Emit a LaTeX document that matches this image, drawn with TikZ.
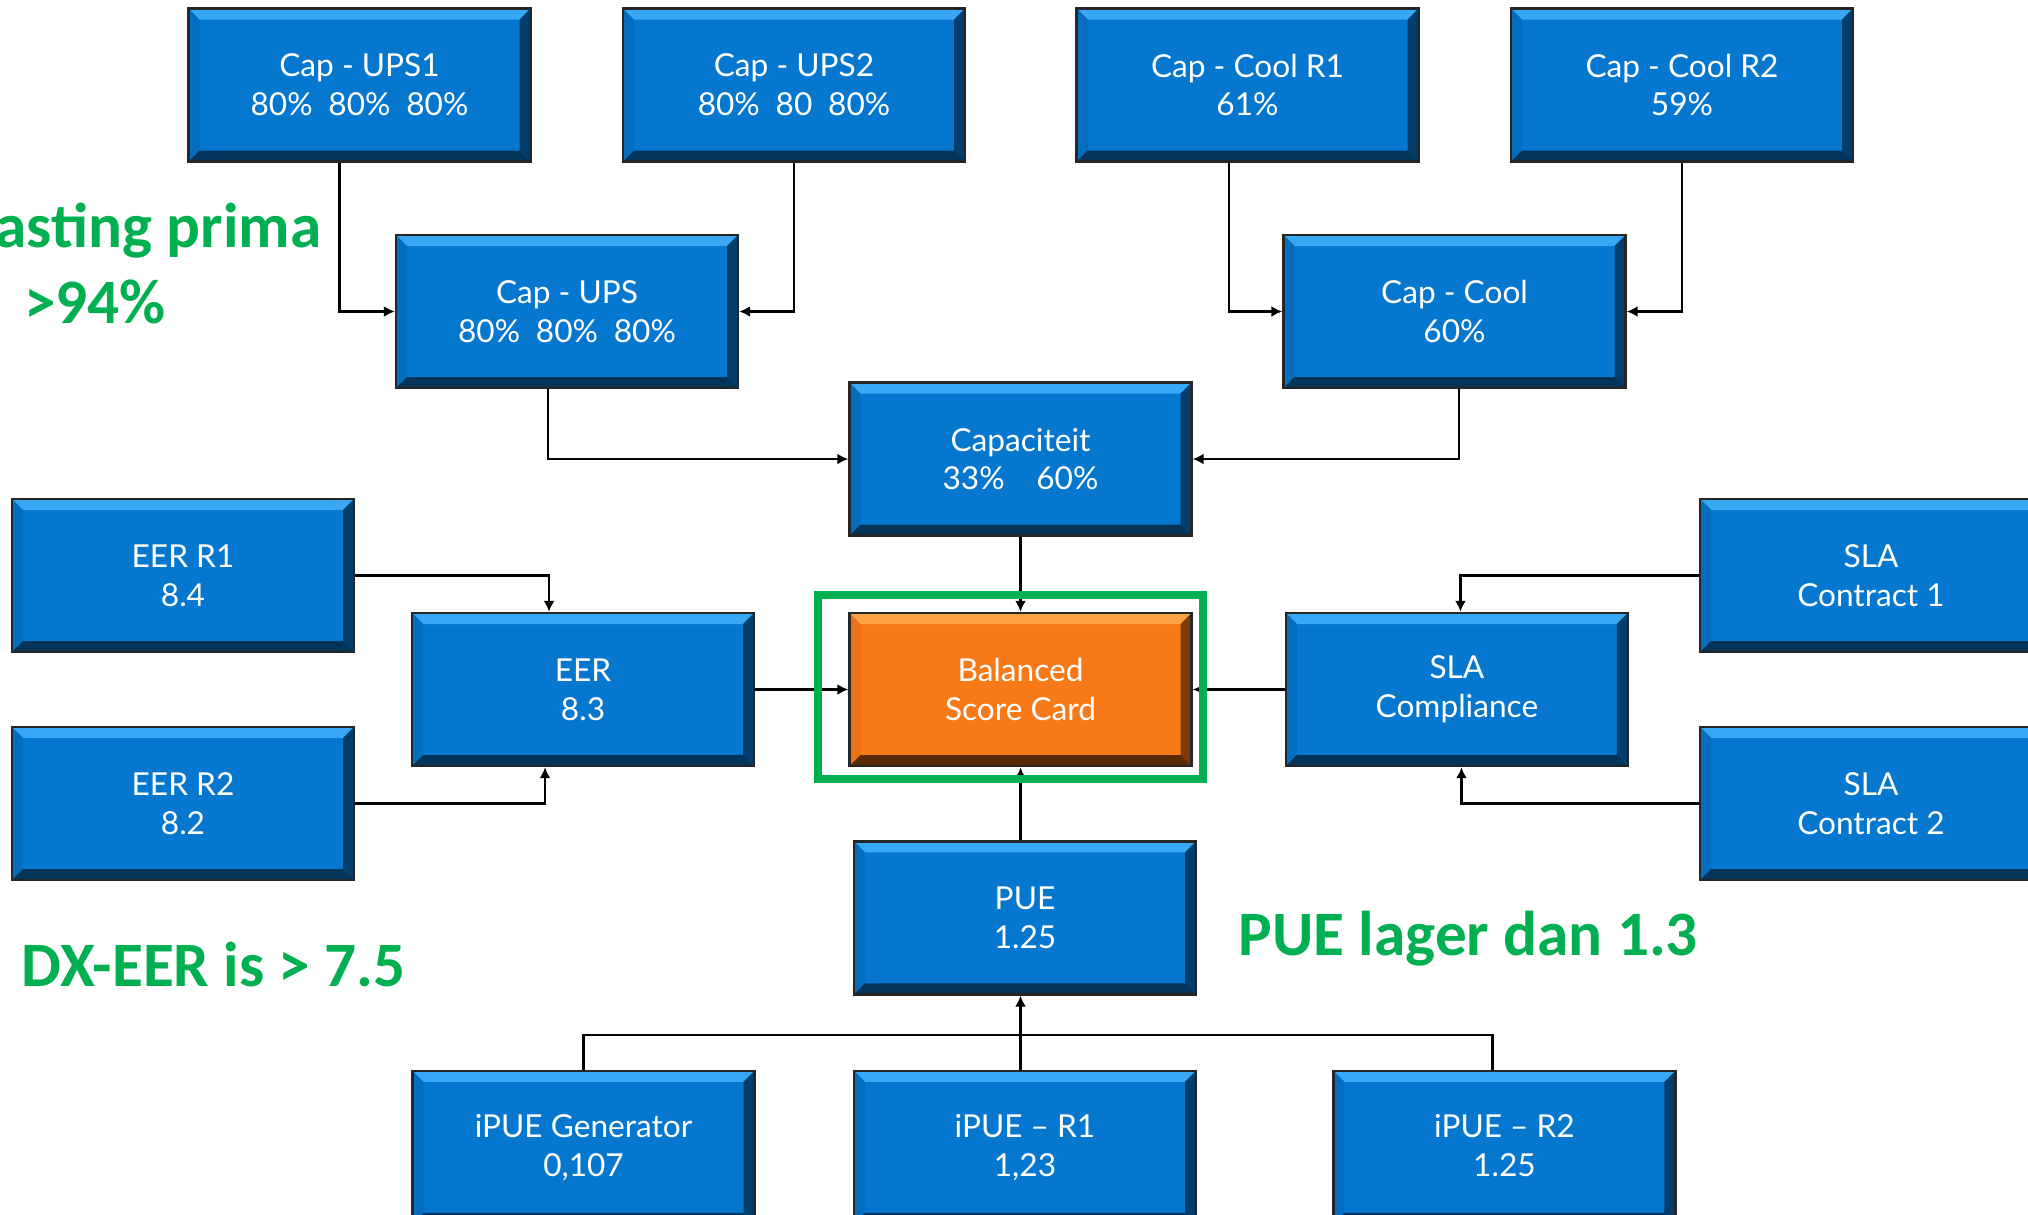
\documentclass[tikz,border=0pt]{standalone}
\usepackage{fontspec}
\usepackage{tikz}
\usetikzlibrary{arrows.meta,positioning,calc,fit}
\newfontfamily\boxfont{Lato}
\newfontfamily\notefont{Carlito}
\definecolor{kpiblue}{HTML}{0677CE}
\definecolor{kpitop}{HTML}{38A8F4}
\definecolor{kpileft}{HTML}{056DBE}
\definecolor{kpiright}{HTML}{033E6C}
\definecolor{kpibottom}{HTML}{03345A}
\definecolor{scorange}{HTML}{F77918}
\definecolor{sctop}{HTML}{FFA244}
\definecolor{scleft}{HTML}{EC7014}
\definecolor{scright}{HTML}{7C3A08}
\definecolor{scbottom}{HTML}{5A2A05}
\definecolor{notegreen}{HTML}{00B050}
\newcommand\bevelw{0.11cm}

\begin{document}
\begin{tikzpicture}[node distance=9mm,>={Latex[length=1.1mm,width=1.1mm]},
  bevel/.style n args={4}{path picture={
    \path (path picture bounding box.north west) coordinate (bnw)
          (path picture bounding box.south east) coordinate (bse);
    \fill[#1] (bnw) -- (bnw -| bse) -- ++(-\bevelw,-\bevelw) -- ($(bnw)+(\bevelw,-\bevelw)$) -- cycle;
    \fill[#2] (bnw) -- ($(bnw)+(\bevelw,-\bevelw)$) -- ($(bnw |- bse)+(\bevelw,\bevelw)$) -- (bnw |- bse) -- cycle;
    \fill[#3] (bnw -| bse) -- (bse) -- ++(-\bevelw,\bevelw) -- ($(bnw -| bse)+(-\bevelw,-\bevelw)$) -- cycle;
    \fill[#4] (bnw |- bse) -- (bse) -- ++(-\bevelw,\bevelw) -- ($(bnw |- bse)+(\bevelw,\bevelw)$) -- cycle;}},
  kpi/.style={draw=black!85,line width=0.7pt,fill=kpiblue,bevel={kpitop}{kpileft}{kpiright}{kpibottom},
    minimum width=3.42cm,minimum height=1.53cm,align=center,text=white,font=\boxfont\fontsize{9}{11}\selectfont},
  score/.style={kpi,fill=scorange,bevel={sctop}{scleft}{scright}{scbottom}},
  conn/.style={->,line width=0.6pt},
  link/.style={line width=0.6pt},
  note/.style={inner sep=0pt,text=notegreen,font=\notefont\bfseries\fontsize{18}{22}\selectfont}]
\useasboundingbox (0,0) rectangle (20.28,-12.15);

% centre row
\node[score] (bsc) at (10.205,-6.895) {Balanced\\Score Card};
\node[kpi,left=0.93cm of bsc] (eer) {EER\\8.3};
\node[kpi,right=0.92cm of bsc] (sla) {SLA\\Compliance};
\node[kpi,above=0.75cm of bsc] (cap) {Capaciteit\\33\%\quad 60\%};
\node[kpi,below=0.73cm of bsc,xshift=0.045cm] (pue) {PUE\\1.25};

% capacity inputs
\node[kpi] (ups1) at (3.595,-0.85) {Cap - UPS1\\80\%\enspace 80\%\enspace 80\%};
\node[kpi] (ups2) at (7.94,-0.85) {Cap - UPS2\\80\%\enspace 80\enspace 80\%};
\node[kpi] (coolr1) at (12.475,-0.85) {Cap - Cool R1\\61\%};
\node[kpi] (coolr2) at (16.82,-0.85) {Cap - Cool R2\\59\%};
\node[kpi] (capups) at (5.67,-3.115) {Cap - UPS\\80\%\enspace 80\%\enspace 80\%};
\node[kpi] (capcool) at (14.545,-3.115) {Cap - Cool\\60\%};

% side inputs
\node[kpi] (eerr1) at (1.83,-5.755) {EER R1\\8.4};
\node[kpi] (eerr2) at (1.83,-8.035) {EER R2\\8.2};
\node[kpi] (slac1) at (18.71,-5.755) {SLA\\Contract 1};
\node[kpi] (slac2) at (18.71,-8.035) {SLA\\Contract 2};

% pue inputs
\node[kpi,below=0.74cm of pue] (ipuer1) {iPUE – R1\\1,23};
\node[kpi,left=0.97cm of ipuer1] (ipuegen) {iPUE Generator\\0,107};
\node[kpi,right=1.35cm of ipuer1] (ipuer2) {iPUE – R2\\1.25\vphantom{,}};

\draw[conn] ([xshift=-0.2cm]ups1.south) |- (capups.west);
\draw[conn] (ups2.south) |- (capups.east);
\draw[conn] ([xshift=-0.185cm]coolr1.south) |- (capcool.west);
\draw[conn] (coolr2.south) |- (capcool.east);
\draw[conn] ([xshift=-0.19cm]capups.south) |- (cap.west);
\draw[conn] ([xshift=0.045cm]capcool.south) |- (cap.east);
\draw[conn] (cap) -- (bsc);
\draw[conn] (eerr1.east) -| ([xshift=-0.34cm]eer.north);
\draw[conn] (eerr2.east) -| ([xshift=-0.38cm]eer.south);
\draw[conn] (eer) -- (bsc);
\draw[conn] (sla) -- (bsc);
\draw[conn] (slac1.west) -| ([xshift=0.035cm]sla.north);
\draw[conn] (slac2.west) -| ([xshift=0.045cm]sla.south);
\draw[conn] (pue.north -| bsc.south) -- (bsc.south);
\draw[conn] (ipuer1.north -| bsc) -- (pue.south -| bsc);
\draw[link] (ipuegen.north) -- ++(0,0.35) -| ([xshift=-0.12cm]ipuer2.north);

\node[draw=notegreen,line width=0.08cm,fit=(bsc),inner xsep=0.2cm,inner ysep=0.14cm,xshift=-0.1cm,yshift=0.025cm] (focus) {};

\node[note,anchor=base east] (loadnote) at (3.22,-2.47) {asting prima};
\node[note,anchor=base] (loadpct) at (0.95,-3.23) {>94\%};
\node[note,anchor=base west] (eernote) at (0.21,-9.86) {DX-EER is > 7.5};
\node[note,anchor=base west] (puenote) at (12.38,-9.55) {PUE lager dan 1.3};
\end{tikzpicture}
\end{document}
